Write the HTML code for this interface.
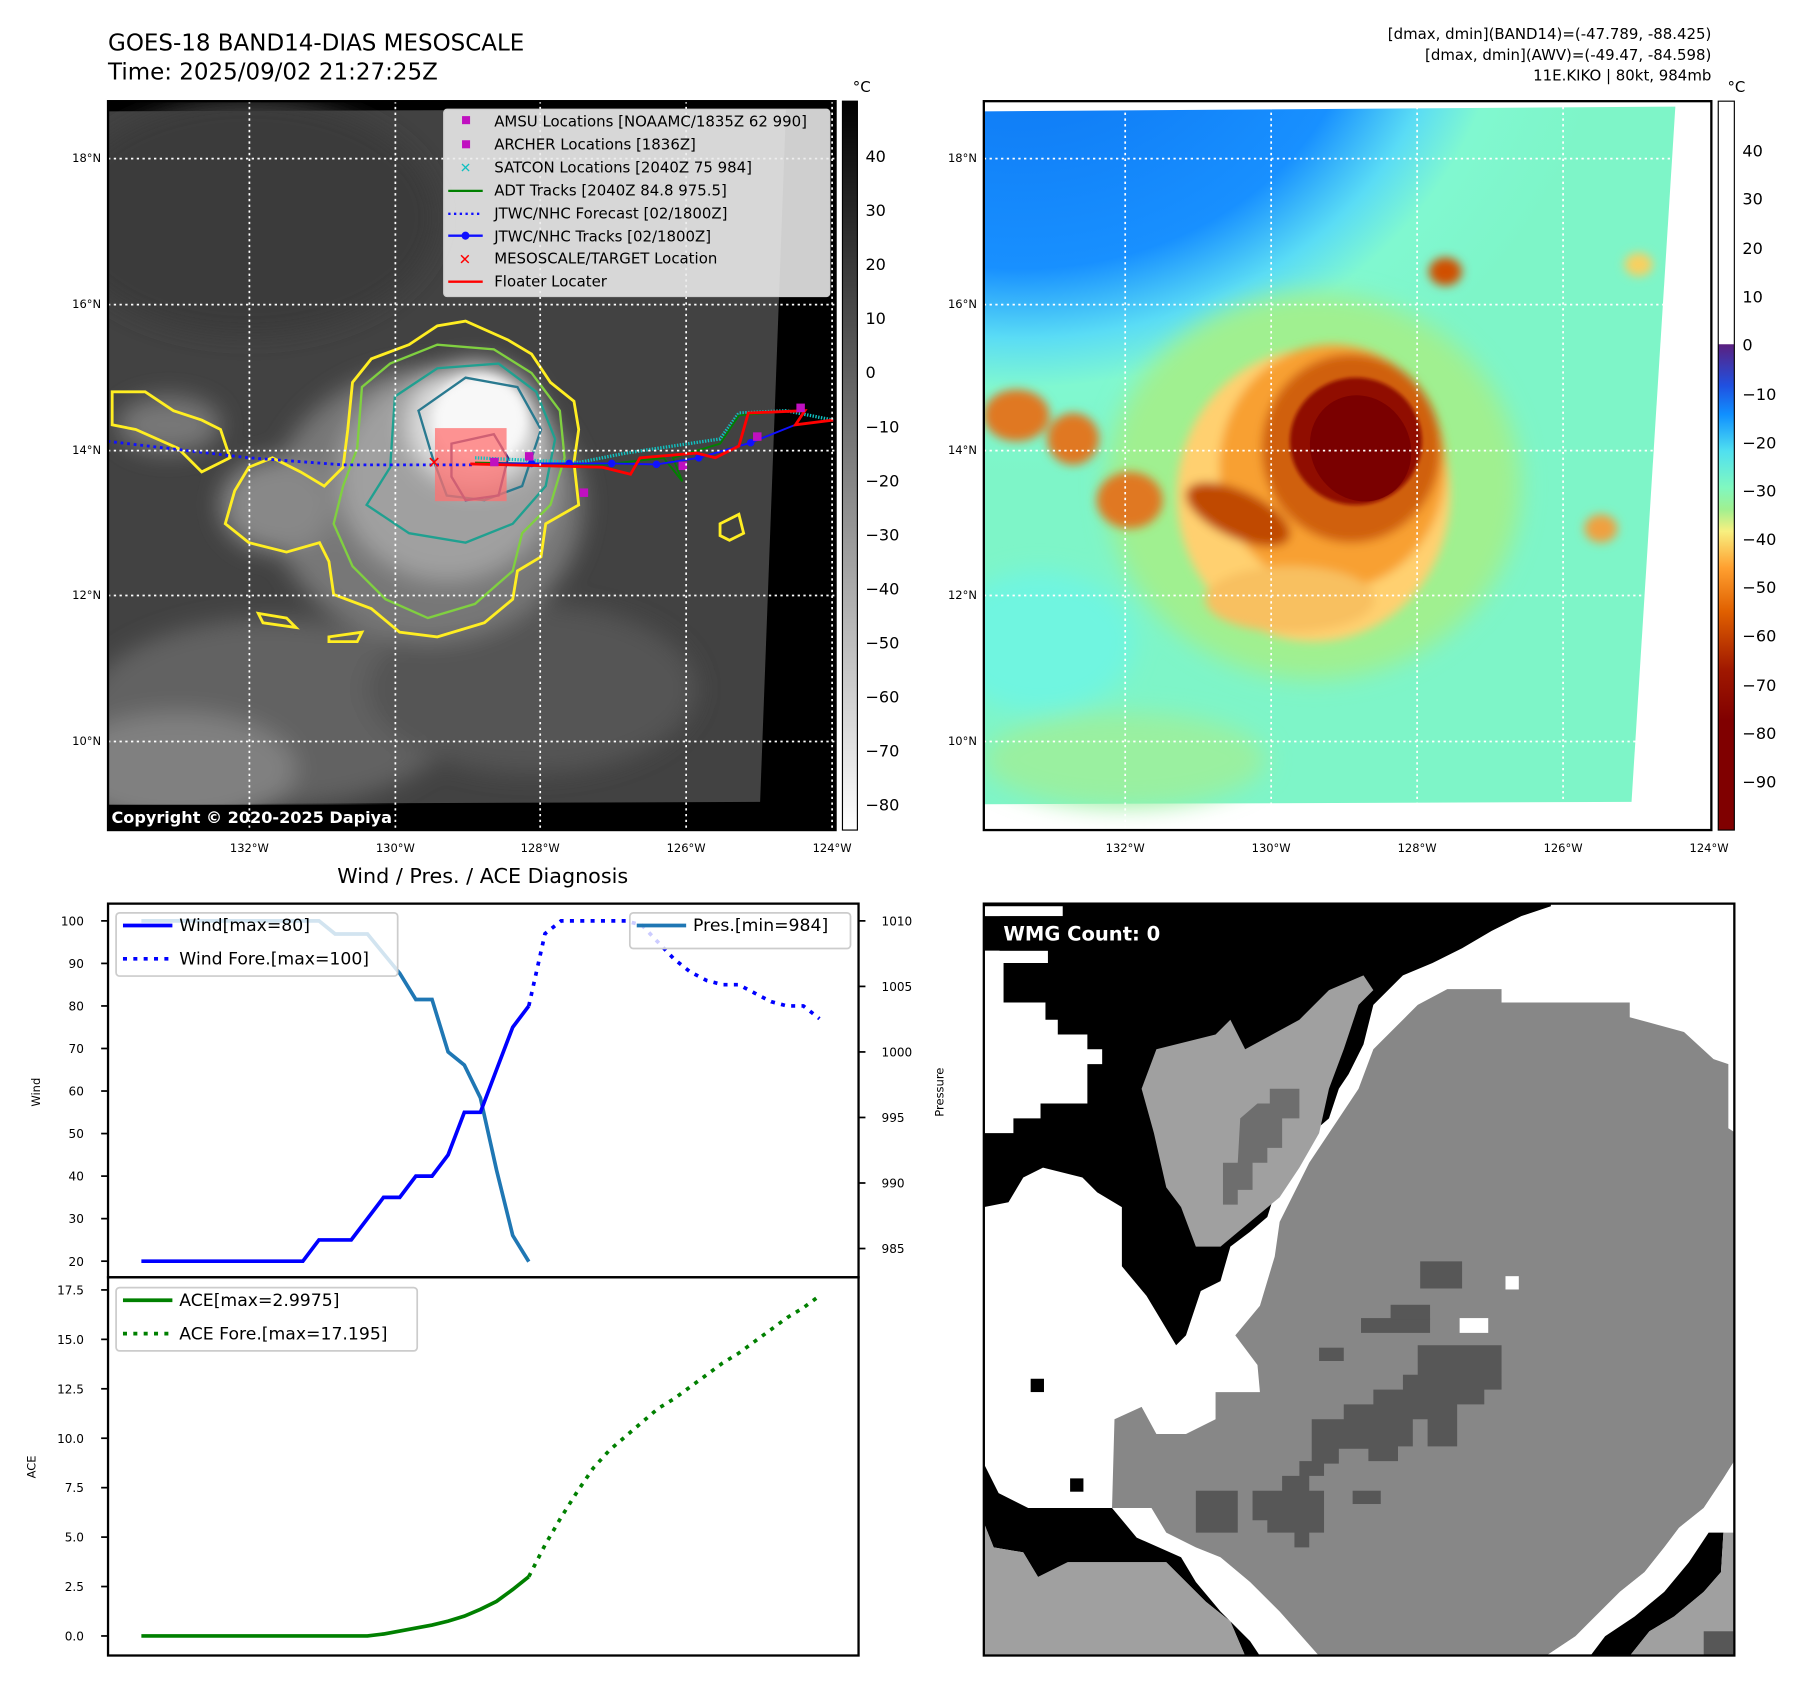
<!DOCTYPE html>
<html><head><meta charset="utf-8"><style>
html,body{margin:0;padding:0;background:#fff}
svg{display:block;font-family:"DejaVu Sans","Liberation Sans",sans-serif}
</style></head><body>
<svg width="1801" height="1690" viewBox="0 0 1567 1470" preserveAspectRatio="none" xmlns="http://www.w3.org/2000/svg">
<defs>
<filter id="b4"><feGaussianBlur stdDeviation="4"/></filter>
<filter id="b10"><feGaussianBlur stdDeviation="10"/></filter>
<filter id="b25"><feGaussianBlur stdDeviation="25"/></filter>
<clipPath id="clipL"><rect x="94" y="88" width="633" height="634"/></clipPath>
<clipPath id="clipR"><rect x="856" y="88" width="633" height="634"/></clipPath>
<clipPath id="clipW"><rect x="856" y="786" width="653" height="654"/></clipPath>
<radialGradient id="blueG" cx="0" cy="0" r="1" gradientUnits="userSpaceOnUse" gradientTransform="translate(80,-250) scale(1250,1050)">
<stop offset="0" stop-color="#0a70f0"/><stop offset="0.58" stop-color="#1890ff"/><stop offset="0.72" stop-color="#5adcf5"/><stop offset="0.82" stop-color="#80f8d0"/><stop offset="1" stop-color="#7ef5c8"/></radialGradient>
<linearGradient id="cbL" x1="0" y1="0" x2="0" y2="1"><stop offset="0" stop-color="#000"/><stop offset="1" stop-color="#fff"/></linearGradient>
<linearGradient id="cbR" x1="0" y1="0" x2="0" y2="1">
<stop offset="0" stop-color="#fff"/><stop offset="0.333" stop-color="#fff"/><stop offset="0.334" stop-color="#5a2080"/><stop offset="0.39" stop-color="#2050e0"/><stop offset="0.43" stop-color="#1090ff"/><stop offset="0.48" stop-color="#50e0f0"/><stop offset="0.53" stop-color="#80f8c0"/><stop offset="0.56" stop-color="#a0f090"/><stop offset="0.59" stop-color="#f8f080"/><stop offset="0.64" stop-color="#ffa030"/><stop offset="0.7" stop-color="#e06000"/><stop offset="0.78" stop-color="#a01800"/><stop offset="0.85" stop-color="#800000"/><stop offset="1" stop-color="#800000"/></linearGradient>
</defs>

<text x="94" y="44" font-size="20">GOES-18 BAND14-DIAS MESOSCALE</text>
<text x="94" y="69" font-size="20">Time: 2025/09/02 21:27:25Z</text>
<g font-size="13" text-anchor="end">
<text x="1489" y="34">[dmax, dmin](BAND14)=(-47.789, -88.425)</text>
<text x="1489" y="52">[dmax, dmin](AWV)=(-49.47, -84.598)</text>
<text x="1489" y="70">11E.KIKO | 80kt, 984mb</text>
</g>

<!-- LEFT MAP -->
<g clip-path="url(#clipL)">
<rect x="94" y="88" width="633" height="634" fill="#000"/>
<g transform="translate(93.5,86.6) scale(0.41)">
<polygon points="0,25 1440,20 1385,1490 0,1495" fill="#424242"/>
<g filter="url(#b25)">
<ellipse cx="300" cy="250" rx="400" ry="250" fill="#3a3a3a"/>
<ellipse cx="350" cy="1300" rx="400" ry="200" fill="#626262"/>
<ellipse cx="150" cy="1420" rx="250" ry="120" fill="#808080"/>
<ellipse cx="900" cy="1250" rx="350" ry="180" fill="#555"/>
<ellipse cx="680" cy="860" rx="330" ry="290" fill="#777"/>
<ellipse cx="720" cy="800" rx="230" ry="220" fill="#a0a0a0"/>
<ellipse cx="360" cy="860" rx="120" ry="100" fill="#888"/>
<ellipse cx="130" cy="690" rx="110" ry="60" fill="#777"/>
<ellipse cx="780" cy="690" rx="140" ry="130" fill="#e0e0e0"/>
</g>
<ellipse cx="790" cy="680" rx="100" ry="95" fill="#f8f8f8" filter="url(#b10)"/>
<path d="M520,600 L560,550 640,520 700,480 760,470 850,510 900,540 940,600 990,640 1000,700 990,770 1000,860 930,900 920,970 870,1000 860,1060 800,1110 700,1140 620,1130 560,1080 480,1050 470,980 450,940 380,960 300,940 250,900 270,830 300,780 350,760 410,790 460,820 500,780 510,700 Z" fill="none" stroke="#ffee22" stroke-width="6"/>
<path d="M540,610 L600,560 700,520 820,530 900,580 960,660 970,760 940,860 880,920 860,1000 780,1070 680,1100 590,1060 520,990 480,900 500,820 530,740 Z" fill="none" stroke="#80d040" stroke-width="5"/>
<path d="M610,630 L700,570 830,560 910,620 950,720 930,820 860,900 760,940 640,920 550,860 600,780 Z" fill="none" stroke="#20a090" stroke-width="5"/>
<path d="M660,660 L760,590 870,610 920,700 880,820 800,850 720,840 690,760 Z" fill="none" stroke="#2a7a90" stroke-width="5"/>
<path d="M730,730 L820,710 850,760 830,840 760,850 730,800 Z" fill="none" stroke="#403080" stroke-width="5"/>
<path d="M10,620 L80,620 140,660 200,680 240,700 260,760 200,790 150,740 60,700 10,690 Z" fill="none" stroke="#ffee22" stroke-width="6"/>
<path d="M320,1090 L380,1100 400,1120 330,1110 Z M470,1140 L540,1130 530,1150 470,1150 Z M1300,900 L1340,880 1350,920 1320,935 1300,925 Z" fill="none" stroke="#ffee22" stroke-width="6"/>
<rect x="695" y="697" width="152" height="155" fill="#ff7070" opacity="0.75"/>
<polyline points="0,725 300,760 500,775 700,775 780,775" fill="none" stroke="#1010ff" stroke-width="6" stroke-dasharray="6,8"/>
<polyline points="780,760 1000,770 1100,750 1300,720 1340,665 1440,660 1540,680" fill="none" stroke="#10c0c0" stroke-width="7" stroke-dasharray="3,3"/>
<polyline points="780,770 1050,775 1180,760 1220,810 1200,760 1300,730 1340,670 1450,660" fill="none" stroke="#008000" stroke-width="4"/>
<polyline points="820,772 900,772 980,772 1070,772 1165,774 1255,760 1365,728 1460,690 1540,680" fill="none" stroke="#1010ff" stroke-width="4"/>
<g fill="#1010ff"><circle cx="900" cy="772" r="8"/><circle cx="980" cy="772" r="8"/><circle cx="1070" cy="772" r="8"/><circle cx="1165" cy="774" r="8"/><circle cx="1255" cy="760" r="8"/><circle cx="1365" cy="728" r="8"/></g>
<polyline points="770,773 1050,780 1110,795 1130,760 1250,750 1290,760 1340,735 1360,665 1480,660 1460,690 1540,680" fill="none" stroke="#ff0000" stroke-width="6"/>
<g fill="#c010c0"><rect x="886" y="748" width="18" height="18"/><rect x="1002" y="825" width="18" height="18"/><rect x="1212" y="768" width="18" height="18"/><rect x="1370" y="706" width="18" height="18"/><rect x="1462" y="645" width="18" height="18"/><rect x="812" y="760" width="18" height="18"/></g>
<text x="679" y="782" font-size="34" fill="#ff0000" font-weight="bold">✕</text>
</g>
<rect x="94" y="700" width="633" height="22" fill="#000"/>
<text x="97" y="716" font-size="14" font-weight="bold" fill="#fff">Copyright © 2020-2025 Dapiya</text>
<g stroke="#fff" stroke-width="1.5" stroke-dasharray="2,3">
<line x1="94" y1="138" x2="727" y2="138"/><line x1="94" y1="265" x2="727" y2="265"/><line x1="94" y1="392" x2="727" y2="392"/><line x1="94" y1="518" x2="727" y2="518"/><line x1="94" y1="645" x2="727" y2="645"/>
<line x1="217" y1="88" x2="217" y2="722"/><line x1="344" y1="88" x2="344" y2="722"/><line x1="470" y1="88" x2="470" y2="722"/><line x1="597" y1="88" x2="597" y2="722"/><line x1="724" y1="88" x2="724" y2="722"/>
</g>
</g>
<g>
<rect x="386" y="95" width="336" height="163" rx="3" fill="#ececec" fill-opacity="0.88" stroke="#ccc"/>
<g font-size="13">
<rect x="402" y="101" width="7" height="7" fill="#c010c0"/><text x="430" y="110">AMSU Locations [NOAAMC/1835Z 62 990]</text>
<rect x="402" y="122" width="7" height="7" fill="#c010c0"/><text x="430" y="130">ARCHER Locations [1836Z]</text>
<text x="400" y="150" fill="#10c0c0" font-size="12" font-weight="bold">✕</text><text x="430" y="150">SATCON Locations [2040Z 75 984]</text>
<line x1="390" y1="166" x2="420" y2="166" stroke="#008000" stroke-width="2"/><text x="430" y="170">ADT Tracks [2040Z 84.8 975.5]</text>
<line x1="390" y1="186" x2="420" y2="186" stroke="#1010ff" stroke-width="2" stroke-dasharray="2,3"/><text x="430" y="190">JTWC/NHC Forecast [02/1800Z]</text>
<line x1="390" y1="205" x2="420" y2="205" stroke="#1010ff" stroke-width="2"/><circle cx="405" cy="205" r="3.5" fill="#1010ff"/><text x="430" y="210">JTWC/NHC Tracks [02/1800Z]</text>
<text x="399" y="230" fill="#f00" font-size="13" font-weight="bold">✕</text><text x="430" y="229">MESOSCALE/TARGET Location</text>
<line x1="390" y1="245" x2="420" y2="245" stroke="#f00" stroke-width="2"/><text x="430" y="249">Floater Locater</text>
</g></g>
<rect x="94" y="88" width="633" height="634" fill="none" stroke="#000" stroke-width="2"/>
<g font-size="10" text-anchor="end">
<text x="88" y="141">18°N</text><text x="88" y="268">16°N</text><text x="88" y="395">14°N</text><text x="88" y="521">12°N</text><text x="88" y="648">10°N</text></g>
<g font-size="10" text-anchor="middle">
<text x="217" y="741">132°W</text><text x="344" y="741">130°W</text><text x="470" y="741">128°W</text><text x="597" y="741">126°W</text><text x="724" y="741">124°W</text></g>
<g>
<rect x="733" y="88" width="13" height="634" fill="url(#cbL)" stroke="#000"/>
<text x="742" y="80" font-size="13">°C</text>
<g font-size="14"><text x="753" y="141">40</text><text x="753" y="188">30</text><text x="753" y="235">20</text><text x="753" y="282">10</text><text x="753" y="329">0</text><text x="753" y="376">−10</text><text x="753" y="423">−20</text><text x="753" y="470">−30</text><text x="753" y="517">−40</text><text x="753" y="564">−50</text><text x="753" y="611">−60</text><text x="753" y="658">−70</text><text x="753" y="705">−80</text></g>
</g>

<!-- RIGHT MAP -->
<g clip-path="url(#clipR)">
<rect x="856" y="88" width="633" height="634" fill="#fff"/>
<g transform="translate(855.8,86.6) scale(0.41)">
<polygon points="0,25 1468,15 1375,1490 0,1495" fill="url(#blueG)"/>
<g filter="url(#b25)">
<ellipse cx="120" cy="1150" rx="200" ry="150" fill="#70f5e0"/>
<ellipse cx="300" cy="1400" rx="300" ry="100" fill="#9af0a0"/>
<ellipse cx="700" cy="820" rx="440" ry="410" fill="#a0f090"/>
</g>
<g filter="url(#b10)">
<ellipse cx="700" cy="840" rx="290" ry="310" fill="#ffd070"/>
<ellipse cx="740" cy="780" rx="240" ry="260" fill="#f8a030"/>
<ellipse cx="780" cy="740" rx="190" ry="200" fill="#d06010"/>
<ellipse cx="540" cy="880" rx="120" ry="50" fill="#c04a00" transform="rotate(25 540 880)"/>
<ellipse cx="70" cy="670" rx="70" ry="55" fill="#e07820"/>
<ellipse cx="190" cy="720" rx="55" ry="55" fill="#e07820"/>
<ellipse cx="310" cy="850" rx="70" ry="60" fill="#e07820"/>
<ellipse cx="980" cy="365" rx="35" ry="30" fill="#d05000"/>
<ellipse cx="1310" cy="910" rx="35" ry="30" fill="#f0a040"/>
<ellipse cx="1390" cy="350" rx="30" ry="25" fill="#f8d060"/>
<ellipse cx="650" cy="1060" rx="180" ry="70" fill="#f8c060"/>
</g>
<ellipse cx="790" cy="725" rx="140" ry="135" fill="#901000" filter="url(#b4)"/>
<ellipse cx="800" cy="740" rx="105" ry="115" fill="#7a0000" transform="rotate(-30 800 740)"/>
</g>
<g stroke="#fff" stroke-width="1.5" stroke-dasharray="2,3">
<line x1="856" y1="138" x2="1489" y2="138"/><line x1="856" y1="265" x2="1489" y2="265"/><line x1="856" y1="392" x2="1489" y2="392"/><line x1="856" y1="518" x2="1489" y2="518"/><line x1="856" y1="645" x2="1489" y2="645"/>
<line x1="979" y1="88" x2="979" y2="722"/><line x1="1106" y1="88" x2="1106" y2="722"/><line x1="1233" y1="88" x2="1233" y2="722"/><line x1="1360" y1="88" x2="1360" y2="722"/>
</g>
</g>
<rect x="856" y="88" width="633" height="634" fill="none" stroke="#000" stroke-width="2"/>
<g font-size="10" text-anchor="end">
<text x="850" y="141">18°N</text><text x="850" y="268">16°N</text><text x="850" y="395">14°N</text><text x="850" y="521">12°N</text><text x="850" y="648">10°N</text></g>
<g font-size="10" text-anchor="middle">
<text x="979" y="741">132°W</text><text x="1106" y="741">130°W</text><text x="1233" y="741">128°W</text><text x="1360" y="741">126°W</text><text x="1487" y="741">124°W</text></g>
<g>
<rect x="1495" y="88" width="14" height="634" fill="url(#cbR)" stroke="#000"/>
<text x="1503" y="80" font-size="13">°C</text>
<g font-size="14"><text x="1516" y="136">40</text><text x="1516" y="178">30</text><text x="1516" y="221">20</text><text x="1516" y="263">10</text><text x="1516" y="305">0</text><text x="1516" y="348">−10</text><text x="1516" y="390">−20</text><text x="1516" y="432">−30</text><text x="1516" y="474">−40</text><text x="1516" y="516">−50</text><text x="1516" y="558">−60</text><text x="1516" y="601">−70</text><text x="1516" y="643">−80</text><text x="1516" y="685">−90</text></g>
</g>

<!-- WMG PANEL -->
<g clip-path="url(#clipW)">
<g transform="translate(856,784) scale(0.429)">
<rect x="0" y="0" width="1530" height="1530" fill="#fff"/>
<polygon fill="#878787" points="940,178 1050,178 1050,205 1310,205 1310,235 1420,265 1480,320 1510,330 1510,460 1525,470 1525,1130 1500,1170 1460,1230 1410,1270 1380,1310 1340,1360 1290,1400 1230,1460 1200,1490 1140,1530 680,1530 600,1440 540,1380 480,1330 430,1310 370,1280 340,1230 260,1230 265,1050 320,1025 350,1080 410,1080 470,1050 470,995 560,995 555,940 510,880 560,820 590,720 600,650 660,530 720,440 760,380 790,300 850,240 880,210"/>
<polygon fill="#000" points="0,0 1150,0 1150,10 1090,30 1030,60 970,95 910,125 850,150 820,180 790,210 770,290 740,350 720,380 700,440 665,470 640,530 600,560 575,640 540,670 500,700 480,770 440,790 410,880 390,900 360,850 330,800 280,740 280,620 230,590 200,560 120,540 80,560 50,610 0,620"/>
<polygon fill="#fff" points="0,100 130,100 130,125 40,125 40,205 125,205 125,240 150,240 150,270 210,270 210,300 240,300 240,330 210,330 210,410 115,410 115,440 60,440 60,470 0,470"/>
<polygon fill="#fff" points="0,10 160,10 160,30 0,30"/>
<polygon fill="#a0a0a0" points="350,300 470,270 500,240 530,300 640,240 700,180 770,150 790,180 760,210 730,300 700,380 680,470 640,540 600,600 540,650 480,700 430,700 400,620 370,580 345,470 320,380"/>
<polygon fill="#6e6e6e" points="580,380 640,380 640,440 605,440 605,500 575,500 575,530 545,530 545,585 515,585 515,615 485,615 485,530 515,530 520,440 555,410 580,410"/>
<polygon fill="#000" points="0,1140 30,1200 90,1230 260,1230 310,1290 400,1330 430,1380 480,1440 540,1500 560,1530 530,1530 500,1460 450,1420 370,1340 170,1340 110,1370 80,1320 20,1310 0,1260"/>
<polygon fill="#a0a0a0" points="0,1260 20,1310 80,1320 110,1370 170,1340 370,1340 450,1420 500,1460 530,1530 0,1530"/>
<polygon fill="#fff" points="1525,1130 1525,1280 1470,1290 1440,1330 1400,1400 1340,1450 1310,1480 1260,1530 1140,1530 1200,1490 1230,1460 1290,1400 1340,1360 1380,1310 1410,1270 1460,1230 1500,1170"/>
<polygon fill="#000" points="1470,1280 1500,1280 1495,1360 1460,1400 1400,1450 1350,1480 1310,1530 1230,1530 1260,1490 1320,1450 1380,1400 1430,1340"/>
<polygon fill="#a0a0a0" points="1500,1280 1530,1280 1530,1530 1310,1530 1350,1480 1400,1450 1460,1400 1495,1360"/>
<g fill="#575757">
<polygon points="880,900 1050,900 1050,990 1015,990 1015,1020 960,1020 960,1105 900,1105 900,1050 870,1050 870,1105 840,1105 840,1135 780,1135 780,1110 720,1110 720,1140 690,1140 690,1165 660,1165 660,1195 690,1195 690,1280 660,1280 660,1310 630,1310 630,1280 575,1280 575,1255 545,1255 545,1195 605,1195 605,1165 640,1165 640,1135 665,1135 665,1050 730,1050 730,1020 790,1020 790,990 850,990 850,960 880,960"/>
<rect x="765" y="845" width="140" height="30"/><rect x="825" y="818" width="80" height="30"/><rect x="430" y="1195" width="85" height="85"/><rect x="748" y="1195" width="57" height="27"/><rect x="680" y="905" width="50" height="27"/><rect x="885" y="730" width="85" height="55"/><rect x="1460" y="1480" width="60" height="50"/>
</g>
<rect x="965" y="845" width="58" height="30" fill="#fff"/><rect x="1058" y="760" width="27" height="27" fill="#fff"/>
<rect x="95" y="968" width="27" height="27" fill="#000"/><rect x="175" y="1170" width="27" height="27" fill="#000"/>
</g>
<rect x="866" y="797" width="162" height="30" rx="5" fill="#000"/>
<text x="873" y="818" font-size="17" font-weight="bold" fill="#fff">WMG Count: 0</text>
</g>
<rect x="856" y="786" width="653" height="654" fill="none" stroke="#000" stroke-width="2"/>

<!-- TIME SERIES -->
<text x="420" y="768" font-size="18" text-anchor="middle">Wind / Pres. / ACE Diagnosis</text>
<g id="chart"></g>
<rect x="94" y="786" width="653" height="325" fill="none" stroke="#000" stroke-width="2"/>
<rect x="94" y="1111" width="653" height="329" fill="none" stroke="#000" stroke-width="2"/>
<text transform="translate(35,950) rotate(-90)" font-size="10" text-anchor="middle">Wind</text>
<text transform="translate(821,950) rotate(-90)" font-size="10" text-anchor="middle">Pressure</text>
<text transform="translate(31,1276) rotate(-90)" font-size="10" text-anchor="middle">ACE</text>
</svg>
<script>
const windObs = [20,20,20,20,20,20,20,20,20,20,20,25,25,25,30,35,35,40,40,45,55,55,65,75,80];
const windFcst = [80,97,100,100,100,100,100,99,95,91,88,86,85,85,83,81,80,80,77];
const presObs = [1010,1010,1010,1010,1010,1010,1010,1010,1010,1010,1010,1010,1009,1009,1009,1007.5,1006,1004,1004,1000,999,996.5,991,986,984];
const aceObs = [0,0,0,0,0,0,0,0,0,0,0,0,0,0,0,0.1,0.25,0.4,0.55,0.75,1.0,1.35,1.75,2.35,3.0];
const aceFcst = [3.0,4.6,6.0,7.3,8.5,9.4,10.1,10.8,11.5,12.0,12.6,13.2,13.8,14.3,14.9,15.5,16.1,16.6,17.2];
const windTicks = [20,30,40,50,60,70,80,90,100];
const presTicks = [985,990,995,1000,1005,1010];
const aceTicks = [0,2.5,5,7.5,10,12.5,15,17.5];

const NS = 'http://www.w3.org/2000/svg';
const g = document.getElementById('chart');
const xS = i => 123 + i * (713 - 123) / 42;
const yW = v => 1097 - (v - 20) * (1097 - 801) / 80;
const yP = p => 1086 - (p - 985) * (1086 - 801) / 25;
const yA = a => 1423 - a * (1423 - 1122) / 17.5;
function mk(tag, attrs) { const e = document.createElementNS(NS, tag); for (const k in attrs) e.setAttribute(k, attrs[k]); g.appendChild(e); return e; }
function line(vals, off, yf, color, w, dash) {
  const pts = vals.map((v, i) => xS(i + off).toFixed(1) + ',' + yf(v).toFixed(1)).join(' ');
  const e = mk('polyline', {points: pts, fill: 'none', stroke: color, 'stroke-width': w});
  if (dash) e.setAttribute('stroke-dasharray', dash);
  return e;
}
let e;
e = line(presObs, 0, yP, '#1f77b4', 3.2);


e = line(windObs, 0, yW, '#0000ff', 3.2);


e = line(windFcst, 24, yW, '#0000ff', 3.2, '3.5,5.5');


e = line(aceObs, 0, yA, '#008000', 3.2);


e = line(aceFcst, 24, yA, '#008000', 3.2, '3.5,5.5');


function tick(x1, x2, y, label, tx, anchor) {
  mk('line', {x1: x1, x2: x2, y1: y, y2: y, stroke: '#000', 'stroke-width': 1.5});
  const t = mk('text', {x: tx, y: y + 4, 'font-size': 10.5, 'text-anchor': anchor});
  t.textContent = label;
  
  
}
windTicks.forEach(v => tick(88, 94, yW(v), String(v), 73, 'end'));
presTicks.forEach(v => tick(747, 753, yP(v), String(v), 767, 'start'));
aceTicks.forEach(v => tick(88, 94, yA(v), v.toFixed(1), 73, 'end'));
function legend(x, y, w, h, items, name) {
  const r = mk('rect', {x: x, y: y, width: w, height: h, rx: 3, fill: '#fff', 'fill-opacity': 0.8, stroke: '#ccc', 'stroke-width': 1.5});
  
  
  items.forEach((it, k) => {
    const yy = y + 11 + k * 29;
    const l = mk('line', {x1: x + 6, x2: x + 49, y1: yy, y2: yy, stroke: it.c, 'stroke-width': 3.2});
    if (it.d) l.setAttribute('stroke-dasharray', '3.5,5.5');
    const t = mk('text', {x: x + 55, y: yy + 5, 'font-size': 15});
    t.textContent = it.t;
    
    
  });
}
legend(101, 794, 245, 55, [{c:'#0000ff', t:'Wind[max=80]'}, {c:'#0000ff', t:'Wind Fore.[max=100]', d:1}], 'wind-legend');
legend(548, 794, 192, 31, [{c:'#1f77b4', t:'Pres.[min=984]'}], 'pressure-legend');
legend(101, 1120, 262, 55, [{c:'#008000', t:'ACE[max=2.9975]'}, {c:'#008000', t:'ACE Fore.[max=17.195]', d:1}], 'ace-legend');
</script>
</body></html>
